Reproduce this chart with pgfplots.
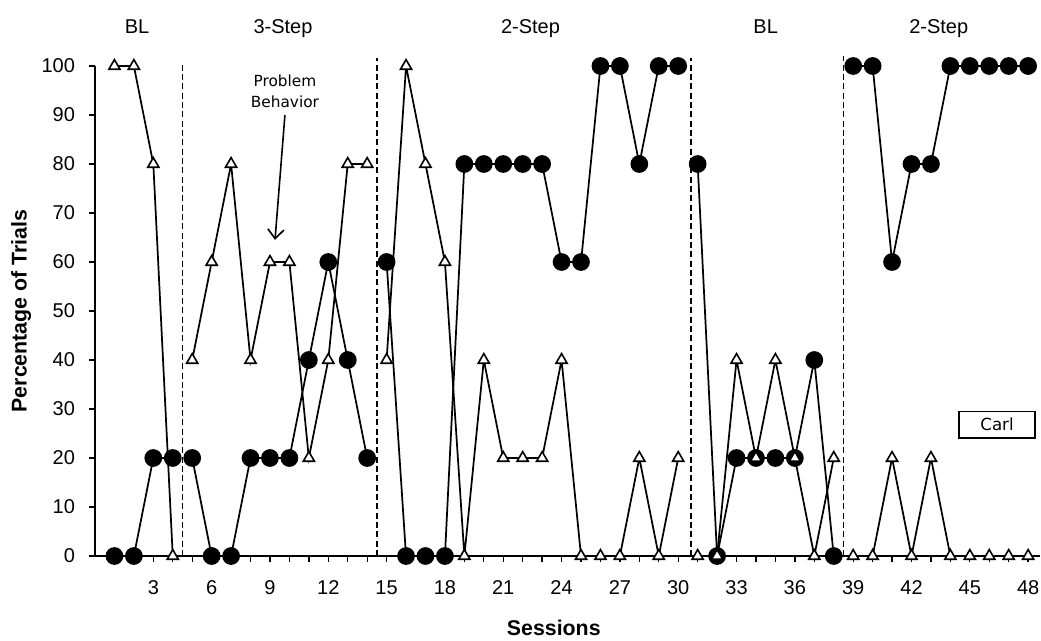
\documentclass[border=0pt]{standalone}
\usepackage{fontspec}
\setmainfont{Liberation Sans}
\newfontfamily\notefont{DejaVu Sans}
\usepackage{pgfplots}
\pgfplotsset{compat=1.18}
\usetikzlibrary{arrows.meta}

\begin{document}
\begin{tikzpicture}[x=1pt,y=1pt]
\useasboundingbox (-71.25,-63) rectangle (709.5,417);
\begin{axis}[
  scale only axis,
  width=708.6pt, height=367.5pt,
  xmin=0, xmax=48.6, ymin=0, ymax=100,
  axis lines*=left,
  axis line style={line width=1.2pt},
  clip=false,
  unbounded coords=jump,
  xtick={3,6,...,48},
  minor xtick={1,...,48},
  ytick={0,10,...,100},
  tick align=outside,
  major tick length=4.5pt, minor tick length=4.5pt,
  tick style={black, line width=1pt},
  tick label style={font=\fontsize{15}{17}\selectfont},
  xticklabel style={yshift=-10.5pt},
  yticklabel style={xshift=-7pt},
  /pgf/number format/assume math mode=true,
  xlabel={Sessions},
  ylabel={Percentage of Trials},
  label style={font=\fontsize{16}{18}\selectfont\bfseries},
  xlabel style={at={(axis cs:23.6,0)}, anchor=base, inner sep=0pt, yshift=-59.5pt},
  ylabel style={at={(axis cs:-3.8,50)}, anchor=center},
]
% phase change lines
\addplot[black, line width=1pt, dash pattern=on 4.5pt off 2.5pt] coordinates {(4.5,0)(4.5,100.5)};
\addplot[black, line width=1pt, dash pattern=on 4.5pt off 2.5pt] coordinates {(14.5,0)(14.5,101.6)};
\addplot[black, line width=1pt, dash pattern=on 4.5pt off 2.5pt] coordinates {(30.65,0)(30.65,101.6)};
\addplot[black, line width=1pt, dash pattern=on 4.5pt off 2.5pt] coordinates {(38.5,0)(38.5,102)};

% filled circles
\addplot[black, line width=1.3pt, mark=*, mark size=6pt, mark options={fill=black, solid}] coordinates {
(1,0)(2,0)(3,20)(4,20)(4.5,nan)
(5,20)(6,0)(7,0)(8,20)(9,20)(10,20)(11,40)(12,60)(13,40)(14,20)(14.5,nan)
(15,60)(16,0)(17,0)(18,0)(19,80)(20,80)(21,80)(22,80)(23,80)(24,60)(25,60)(26,100)(27,100)(28,80)(29,100)(30,100)(30.5,nan)
(31,80)(32,0)(33,20)(34,20)(35,20)(36,20)(37,40)(38,0)(38.5,nan)
(39,100)(40,100)(41,60)(42,80)(43,80)(44,100)(45,100)(46,100)(47,100)(48,100)
};

% open triangles
\addplot[black, line width=1.3pt, mark=triangle*, mark size=4.8pt, mark options={fill=white, solid, line width=1.2pt}] coordinates {
(1,100)(2,100)(3,80)(4,0)(4.5,nan)
(5,40)(6,60)(7,80)(8,40)(9,60)(10,60)(11,20)(12,40)(13,80)(14,80)(14.5,nan)
(15,40)(16,100)(17,80)(18,60)(19,0)(20,40)(21,20)(22,20)(23,20)(24,40)(25,0)(26,0)(27,0)(28,20)(29,0)(30,20)(30.5,nan)
(31,0)(32,0)(33,40)(34,20)(35,40)(36,20)(37,0)(38,20)(38.5,nan)
(39,0)(40,0)(41,20)(42,0)(43,20)(44,0)(45,0)(46,0)(47,0)(48,0)
};

% phase labels
\node[anchor=base, font=\fontsize{15}{17}\selectfont] at (axis cs:2.16,106.7) {BL};
\node[anchor=base, font=\fontsize{15}{17}\selectfont] at (axis cs:9.67,106.7) {3-Step};
\node[anchor=base, font=\fontsize{15}{17}\selectfont] at (axis cs:22.4,106.7) {2-Step};
\node[anchor=base, font=\fontsize{15}{17}\selectfont] at (axis cs:34.5,106.7) {BL};
\node[anchor=base, font=\fontsize{15}{17}\selectfont] at (axis cs:43.4,106.7) {2-Step};

% annotation
\node[align=center, font=\notefont\fontsize{11.5}{15.5}\selectfont] at (axis cs:9.77,94.8) {Problem\\Behavior};
\draw[line width=1.2pt, -{Straight Barb[length=7pt, width=12pt]}] (axis cs:9.77,90) -- (axis cs:9.26,64.5);

\node[draw, line width=1.2pt, minimum width=57pt, minimum height=20pt, inner sep=0pt, font=\notefont\fontsize{12.5}{14}\selectfont] at (axis cs:46.4,26.8) {Carl};
\end{axis}
\end{tikzpicture}
\end{document}
